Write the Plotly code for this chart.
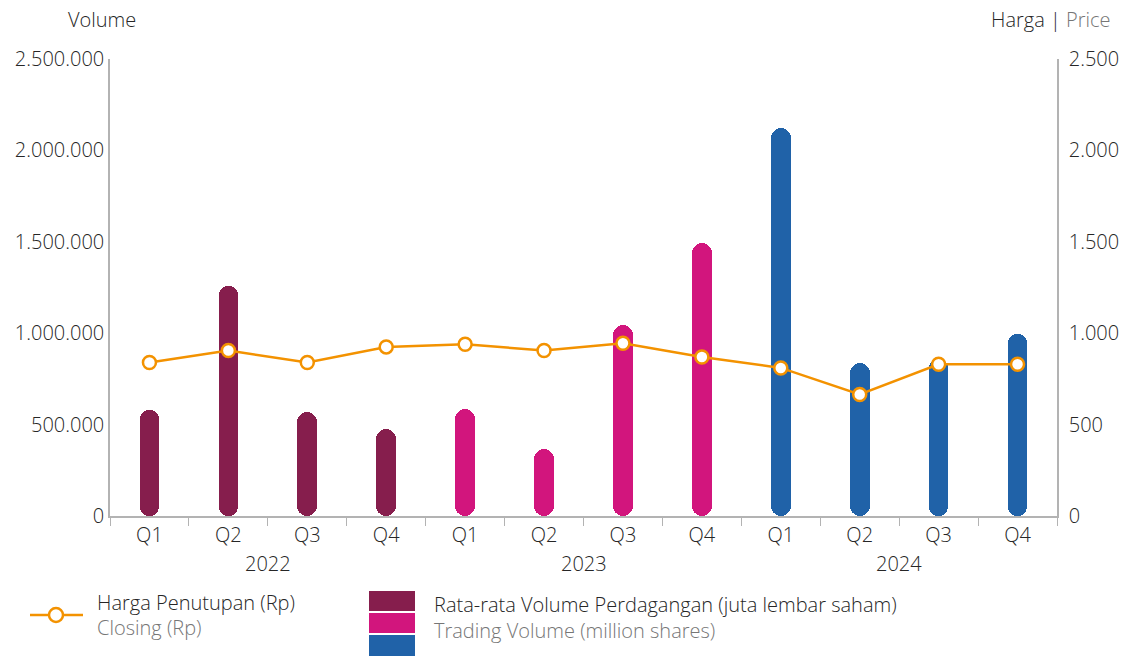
import plotly.graph_objects as go

years = ["2022", "2023", "2024"]
quarters = ["Q1", "Q2", "Q3", "Q4"]
volume = [580000, 1258000, 570000, 474000,
          585000, 366000, 1045000, 1492000,
          2121000, 835000, 860000, 996000]
price = [840, 905, 840, 925, 940, 905, 945, 870, 810, 665, 830, 830]
year_colors = {"2022": "#861E4D", "2023": "#D2157D", "2024": "#2062A8"}
tick_vol = [0, 500000, 1000000, 1500000, 2000000, 2500000]
tick_price = [0, 500, 1000, 1500, 2000, 2500]

cats = [f"{q} {y}" for y in years for q in quarters]
qlabels = [q for y in years for q in quarters]
bar_colors = [year_colors[y] for y in years for q in quarters]

FONT = "Open Sans"
DARK = "#262626"
GRAY = "#767676"
AX = "#b3b3b3"
FS = 20
WT = 300

def f(color=DARK):
    return dict(family=FONT, size=FS, color=color, weight=WT)

fig = go.Figure()
fig.add_trace(go.Bar(x=cats, y=volume, base=[0] * len(volume), width=0.25,
                     marker=dict(color=bar_colors, cornerradius="50%", line_width=0),
                     showlegend=False, hoverinfo="skip"))
fig.add_trace(go.Scatter(x=cats, y=price, yaxis="y2", mode="lines+markers",
                         line=dict(color="#F39200", width=2.5),
                         marker=dict(size=13, color="white", line=dict(color="#F39200", width=2.5)),
                         showlegend=False))

fig.update_layout(
    width=1127, height=657,
    margin=dict(l=102, r=78, t=51, b=149),
    paper_bgcolor="white", plot_bgcolor="white",
    barmode="overlay", bargap=0,
    separators=",.",
    font=f(),
    showlegend=False,
    xaxis=dict(type="category", tickvals=cats, ticktext=qlabels, automargin=False,
               tickson="boundaries", ticks="outside", ticklen=8, tickcolor=AX,
               showline=True, linecolor=AX, linewidth=1.5, showgrid=False,
               tickfont=f(), range=[-0.5, 11.5]),
    yaxis=dict(range=[0, 2500000], tickvals=tick_vol, tickformat=",d", automargin=False,
               showline=True, linecolor=AX, linewidth=1.5, showgrid=False,
               zeroline=False, ticks="", tickfont=f()),
    yaxis2=dict(range=[0, 2500], tickvals=tick_price, tickformat=",d", automargin=False,
                overlaying="y", side="right", ticklabelstandoff=6,
                showline=True, linecolor=AX, linewidth=1.5, showgrid=False,
                zeroline=False, ticks="", tickfont=f()),
)

W, H = 947.0, 457.0
def px(x):
    return (x - 110) / W
def py(y):
    return (516 - y) / H

ann = []
def add(x, y, text, xanchor="left", color=DARK, xref="paper"):
    ann.append(dict(x=x, y=py(y), xref=xref, yref="paper", text=text,
                    xanchor=xanchor, yanchor="middle", showarrow=False, font=f(color)))

for i, yr in enumerate(years):
    add(4 * i + 1.5, 563, yr, xanchor="center", xref="x")
add(px(66), 20, "Volume")
add(px(1112), 20, f"Harga | <span style='color:{GRAY}'>Price</span>", xanchor="right")
add(px(95), 602, "Harga Penutupan (Rp)")
add(px(95), 627, "Closing (Rp)", color=GRAY)
add(px(432), 604, "Rata-rata Volume Perdagangan (juta lembar saham)")
add(px(432), 630, "Trading Volume (million shares)", color=GRAY)

shapes = []
shapes.append(dict(type="line", xref="paper", yref="paper", x0=px(30), x1=px(83),
                   y0=py(615), y1=py(615), line=dict(color="#F39200", width=2.5)))
shapes.append(dict(type="circle", xref="paper", yref="paper", x0=px(49), x1=px(63),
                   y0=py(622), y1=py(608), fillcolor="white",
                   line=dict(color="#F39200", width=2.5)))
sq = [(591, 611), (613, 633), (635, 656)]
for (t, b), yr in zip(sq, years):
    shapes.append(dict(type="rect", xref="paper", yref="paper", x0=px(369), x1=px(415),
                       y0=py(b), y1=py(t), fillcolor=year_colors[yr], line_width=0))

fig.update_layout(annotations=ann, shapes=shapes)
fig.write_html("out.html")
